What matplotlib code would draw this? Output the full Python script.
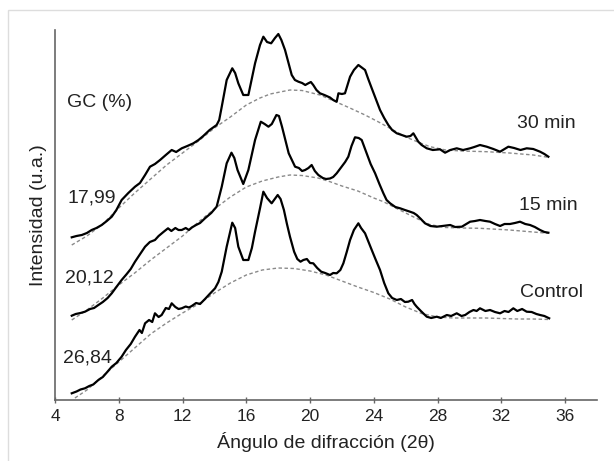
import matplotlib
matplotlib.use("Agg")
import matplotlib.pyplot as plt
from matplotlib.patches import Rectangle

plt.rcParams["font.family"] = ["Liberation Sans", "DejaVu Sans"]

# difractogramas (intensidad en unidades arbitrarias, curvas desplazadas)
control_x = [5.05, 5.35, 5.6, 5.88, 6.15, 6.4, 6.72, 7.0, 7.25, 7.56, 7.85, 8.18, 8.45, 8.75,
             9.02, 9.3, 9.45, 9.65, 9.9, 10.1, 10.27, 10.5, 10.69, 10.95, 11.15, 11.32, 11.55,
             11.75, 11.95, 12.2, 12.4, 12.58, 12.85, 13.1, 13.41, 13.7, 14.04, 14.25, 14.46,
             14.77, 15.12, 15.3, 15.5, 15.81, 16.13, 16.35, 16.55, 16.86, 17.07, 17.3, 17.59,
             17.97, 18.15, 18.36, 18.55, 18.74, 19.0, 19.2, 19.4, 19.58, 19.8, 20.0, 20.2,
             20.45, 20.7, 20.95, 21.25, 21.45, 21.67, 21.9, 22.09, 22.3, 22.51, 22.75, 23.03,
             23.2, 23.45, 23.87, 24.1, 24.39, 24.65, 24.91, 25.15, 25.44, 25.7, 25.95, 26.16,
             26.4, 26.55, 26.69, 26.95, 27.32, 27.6, 27.95, 28.2, 28.58, 28.85, 29.2, 29.5,
             29.73, 30.0, 30.25, 30.45, 30.66, 31.0, 31.29, 31.6, 31.92, 32.2, 32.45, 32.75,
             33.0, 33.3, 33.59, 33.9, 34.2, 34.43, 34.7, 35.0]
control_y = [6.7, 8.5, 10.5, 11.7, 14, 15.5, 20, 23, 27.5, 33.3, 37, 43.3, 50, 56,
             63.3, 70, 67, 76.7, 80, 78, 86.7, 83, 85, 92, 91, 96.7, 93,
             91, 91.7, 93.5, 92.5, 94, 97, 96, 101, 106, 111.7, 118, 128.3,
             153.3, 177.3, 172, 153.3, 140, 140, 152, 168.3, 191.7, 208.3, 202, 196.7,
             205, 201, 190, 176, 163.3, 148.3, 141, 138.3, 140, 141, 137, 136.7,
             132, 128.3, 127, 125, 127, 126.7, 130, 136.7, 148, 160, 170, 176.7,
             172, 166.7, 150, 141, 130, 117, 106.7, 102, 100, 101, 98, 98.3,
             100, 96, 93.3, 89, 83.3, 82, 83.3, 82, 85, 84, 86.7, 84,
             85, 88, 90, 89, 91.7, 89, 90, 88, 86.7, 89, 88, 91.7,
             89, 91, 88.3, 88, 86, 85, 84, 81.7]

min15_x = [5.05, 5.3, 5.6, 5.88, 6.2, 6.45, 6.72, 7.0, 7.3, 7.56, 7.85, 8.18, 8.5, 8.75,
           9.02, 9.3, 9.65, 9.95, 10.27, 10.5, 10.8, 11.09, 11.3, 11.55, 11.75, 11.95, 12.2,
           12.4, 12.58, 12.85, 13.1, 13.41, 13.8, 14.14, 14.46, 14.77, 15.07, 15.25, 15.45,
           15.81, 16.13, 16.55, 16.91, 17.15, 17.39, 17.6, 17.89, 18.05, 18.24, 18.66, 19.06,
           19.3, 19.5, 19.69, 19.9, 20.1, 20.3, 20.52, 20.8, 21.0, 21.25, 21.45, 21.67,
           21.98, 22.2, 22.4, 22.6, 22.82, 23.05, 23.24, 23.55, 23.8, 24.08, 24.35, 24.6,
           24.8, 25.02, 25.35, 25.65, 25.95, 26.27, 26.5, 26.69, 26.95, 27.21, 27.55, 27.95,
           28.3, 28.79, 29.1, 29.52, 29.8, 30.04, 30.35, 30.66, 31.0, 31.29, 31.6, 31.92,
           32.2, 32.54, 32.85, 33.17, 33.5, 33.8, 34.1, 34.43, 34.7, 34.95]
min15_y = [84.3, 86, 87, 88.3, 91, 92, 95, 98, 102, 106.7, 113, 120, 126, 131,
           138.3, 145, 153.3, 158, 160, 164, 168, 171.7, 169, 172, 170, 170, 172,
           170, 172.5, 175, 177, 181.7, 187, 193.3, 213.3, 236.7, 247.3, 242, 230,
           216, 230, 260, 278.3, 276, 273.3, 276, 285, 284, 273.3, 246.7, 233.3,
           232, 229, 230, 232, 235, 229, 225, 222, 221, 221.5, 223, 226.7,
           233.3, 238, 243.3, 254, 262.7, 262, 260, 246.7, 236, 226.7, 216, 206.7,
           200, 196.7, 193, 191.7, 190, 188.3, 187, 185, 181, 176.7, 174, 173.3,
           174, 175, 173, 173.3, 176, 178.3, 179, 180, 179, 178.3, 176, 174,
           176, 176, 177, 178.3, 176, 175, 173, 170, 168, 167.3]

min30_x = [5.05, 5.35, 5.68, 6.0, 6.3, 6.6, 6.93, 7.25, 7.56, 7.85, 8.18, 8.6, 9.02, 9.33,
           9.65, 9.96, 10.27, 10.59, 10.95, 11.32, 11.6, 11.95, 12.3, 12.68, 13.0, 13.3,
           13.7, 14.14, 14.3, 14.46, 14.77, 15.12, 15.3, 15.5, 15.81, 16.13, 16.55, 16.86,
           17.07, 17.3, 17.56, 17.8, 18.01, 18.2, 18.43, 18.85, 19.05, 19.27, 19.5, 19.7,
           19.89, 20.05, 20.2, 20.4, 20.62, 20.9, 21.25, 21.45, 21.67, 21.78, 22.0, 22.19,
           22.35, 22.51, 22.75, 23.03, 23.2, 23.45, 23.65, 23.87, 24.15, 24.39, 24.65, 24.91,
           25.15, 25.44, 25.75, 26.06, 26.3, 26.48, 26.79, 27.0, 27.32, 27.7, 28.15, 28.47,
           28.8, 29.2, 29.6, 30.04, 30.3, 30.66, 31.08, 31.5, 31.92, 32.2, 32.44, 32.8,
           33.2, 33.59, 34.0, 34.43, 34.7, 34.95]
min30_y = [162.7, 164, 165, 167, 170, 172, 175, 179, 183.3, 190, 200, 207, 213.3, 217,
           225, 233.3, 236, 240, 245, 250, 248, 251.7, 254, 256.7, 260, 264,
           270, 275, 280, 293.3, 320, 331.7, 327, 316.7, 305, 305, 336.7, 355,
           363.3, 358, 356.7, 362, 366, 360, 350, 325, 320, 318.3, 317, 315,
           316.7, 318, 315, 310, 306.7, 305, 302.5, 300, 298.3, 306.7, 306, 306.7,
           315, 323.3, 330, 335, 333, 330, 321, 311.7, 300, 290, 282, 275,
           270, 266.7, 265, 263.3, 264, 266.7, 258.3, 255, 251.7, 250, 250.7, 247.3,
           250, 251.7, 250, 251.7, 253, 255, 253.3, 251, 248.3, 251, 253.3, 252,
           250, 251.7, 251, 248.3, 246, 243.3]

# halo amorfo (lineas punteadas)
control_amorf_x = [5.25, 6, 7, 8, 9, 10, 11, 12, 13, 14, 15, 16, 17, 18, 19, 20, 21, 22,
                   23, 24, 25, 26, 27, 28, 29, 30, 31, 32, 33, 34, 35]
control_amorf_y = [2, 10, 24, 38, 52, 66, 77, 87, 96, 107, 117, 125, 130, 132, 131.5, 129,
                   125, 119, 113, 107.5, 101, 93, 86.5, 83, 82, 82, 82, 81.5, 81, 81, 80.5]
min15_amorf_x = [5.05, 6, 7, 8, 9, 10, 11, 12, 13, 14, 15, 16, 17, 18, 18.74, 19.5, 20.5,
                 21.25, 22, 23, 24, 24.6, 25.5, 26.5, 27.5, 28.5, 29.5, 30.66, 32.5, 34, 34.95]
min15_amorf_y = [80, 90, 102, 115, 127, 140, 152, 164, 178, 191, 203, 213, 219, 223, 225,
                 224.5, 222, 218.3, 214, 209, 202, 198.3, 191, 183, 175.5, 172.5, 172,
                 171.7, 170, 168, 166.7]
min30_amorf_x = [5.05, 6, 7, 8, 9, 10, 11, 12, 13, 14, 15, 16, 16.86, 17.5, 18.74, 19.5,
                 20.62, 21.5, 22.5, 23.45, 24.3, 25.02, 26, 27, 27.53, 28.5, 29.5, 31.08,
                 32.5, 34, 34.95]
min30_amorf_y = [155, 164, 176, 192, 207, 221, 235, 247, 259, 272, 283, 295, 302, 306,
                 310, 309.5, 305, 299, 292, 285, 278, 271.7, 263, 256.5, 253.3, 250, 249,
                 248.3, 247, 245, 242.7]

xticks = [4, 8, 12, 16, 20, 24, 28, 32, 36]

fig = plt.figure(figsize=(6.14, 4.61), dpi=100)
fig.patches.append(Rectangle((8 / 614, -0.1), 1.2, 1.1 - 10 / 461,
                             transform=fig.transFigure, fill=False,
                             edgecolor="#dddddd", linewidth=1.0))
ax = fig.add_axes([55 / 614, 1 - 400 / 461, 542 / 614, 370 / 461])

for x, y in [(control_amorf_x, control_amorf_y), (min15_amorf_x, min15_amorf_y),
             (min30_amorf_x, min30_amorf_y)]:
    ax.plot(x, y, color="#8a8a8a", linewidth=1.0, linestyle=(0, (2.5, 1.8)))

for x, y in [(control_x, control_y), (min15_x, min15_y), (min30_x, min30_y)]:
    ax.plot(x, y, color="black", linewidth=1.6)

ax.set_xlim(4, 38)
ax.set_ylim(0, 370)
ax.set_xticks(xticks)
ax.set_yticks([])
for side in ["top", "right"]:
    ax.spines[side].set_visible(False)
for side in ["left", "bottom"]:
    ax.spines[side].set_color("#666666")
    ax.spines[side].set_linewidth(1.2)
ax.tick_params(axis="x", direction="inout", length=5, width=1, colors="#666666",
               labelcolor="#222222", pad=4)
for lab in ax.get_xticklabels():
    lab.set_family(["Liberation Sans Narrow", "Liberation Sans"])
    lab.set_fontsize(12.5)

ax.set_xlabel("Ángulo de difracción (2θ)", fontsize=14, color="#222222", labelpad=6)
ax.set_ylabel("Intensidad (u.a.)", fontsize=14, color="#222222", labelpad=6)

txt = dict(fontsize=14, color="#222222", va="center", ha="left")
ax.text(4.75, 298, "GC (%)", **txt)
ax.text(4.8, 202, "17,99", **txt)
ax.text(4.63, 122, "20,12", **txt)
ax.text(4.52, 42, "26,84", **txt)
ax.text(33.0, 277, "30 min", **txt)
ax.text(33.13, 195, "15 min", **txt)
ax.text(33.17, 108, "Control", **txt)

fig.savefig("out.png", dpi=100)
